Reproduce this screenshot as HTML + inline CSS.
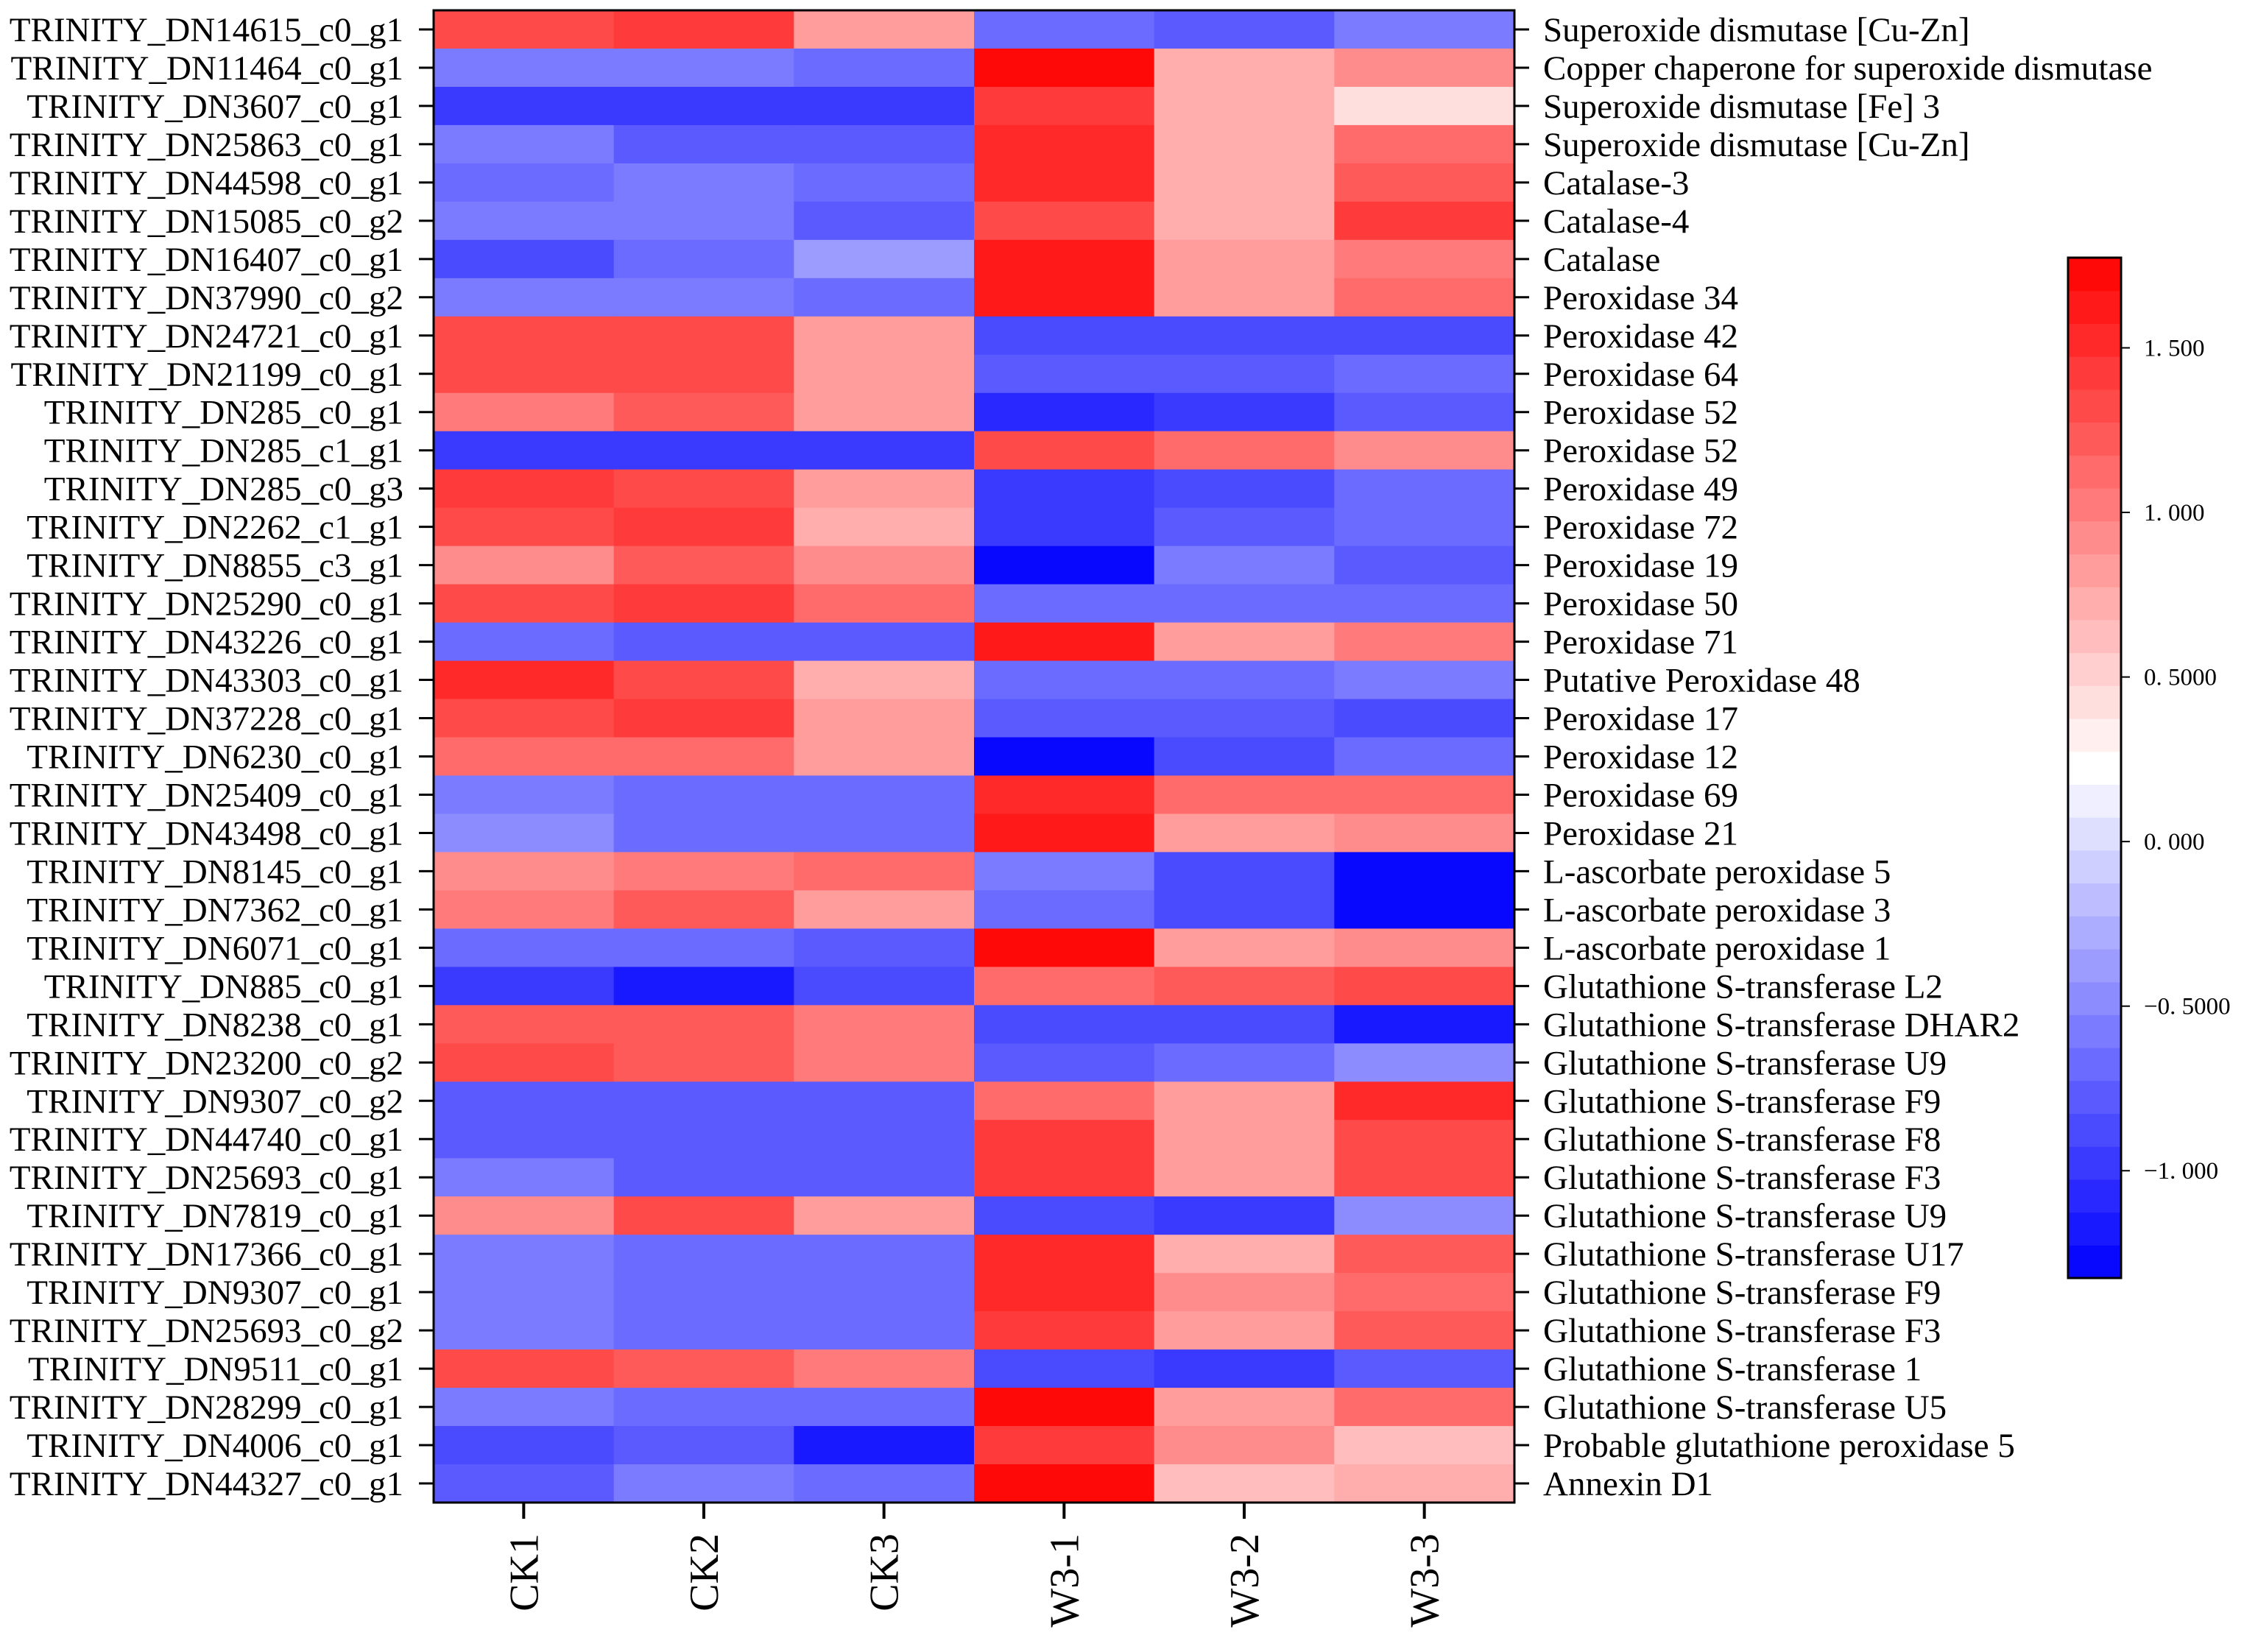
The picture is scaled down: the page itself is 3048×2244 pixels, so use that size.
<!DOCTYPE html>
<html><head><meta charset="utf-8"><style>
html,body{margin:0;padding:0;background:#fff;}
svg{display:block;font-family:"Liberation Serif",serif;}
</style></head><body>
<svg id="chart" width="3048" height="2244" viewBox="0 0 3048 2244" xmlns="http://www.w3.org/2000/svg"></svg>
<script>
const genes = ["TRINITY_DN14615_c0_g1","TRINITY_DN11464_c0_g1","TRINITY_DN3607_c0_g1","TRINITY_DN25863_c0_g1","TRINITY_DN44598_c0_g1","TRINITY_DN15085_c0_g2","TRINITY_DN16407_c0_g1","TRINITY_DN37990_c0_g2","TRINITY_DN24721_c0_g1","TRINITY_DN21199_c0_g1","TRINITY_DN285_c0_g1","TRINITY_DN285_c1_g1","TRINITY_DN285_c0_g3","TRINITY_DN2262_c1_g1","TRINITY_DN8855_c3_g1","TRINITY_DN25290_c0_g1","TRINITY_DN43226_c0_g1","TRINITY_DN43303_c0_g1","TRINITY_DN37228_c0_g1","TRINITY_DN6230_c0_g1","TRINITY_DN25409_c0_g1","TRINITY_DN43498_c0_g1","TRINITY_DN8145_c0_g1","TRINITY_DN7362_c0_g1","TRINITY_DN6071_c0_g1","TRINITY_DN885_c0_g1","TRINITY_DN8238_c0_g1","TRINITY_DN23200_c0_g2","TRINITY_DN9307_c0_g2","TRINITY_DN44740_c0_g1","TRINITY_DN25693_c0_g1","TRINITY_DN7819_c0_g1","TRINITY_DN17366_c0_g1","TRINITY_DN9307_c0_g1","TRINITY_DN25693_c0_g2","TRINITY_DN9511_c0_g1","TRINITY_DN28299_c0_g1","TRINITY_DN4006_c0_g1","TRINITY_DN44327_c0_g1"];
const annotations = ["Superoxide dismutase [Cu-Zn]","Copper chaperone for superoxide dismutase","Superoxide dismutase [Fe] 3","Superoxide dismutase [Cu-Zn]","Catalase-3","Catalase-4","Catalase","Peroxidase 34","Peroxidase 42","Peroxidase 64","Peroxidase 52","Peroxidase 52","Peroxidase 49","Peroxidase 72","Peroxidase 19","Peroxidase 50","Peroxidase 71","Putative Peroxidase 48","Peroxidase 17","Peroxidase 12","Peroxidase 69","Peroxidase 21","L-ascorbate peroxidase 5","L-ascorbate peroxidase 3","L-ascorbate peroxidase 1","Glutathione S-transferase L2","Glutathione S-transferase DHAR2","Glutathione S-transferase U9","Glutathione S-transferase F9","Glutathione S-transferase F8","Glutathione S-transferase F3","Glutathione S-transferase U9","Glutathione S-transferase U17","Glutathione S-transferase F9","Glutathione S-transferase F3","Glutathione S-transferase 1","Glutathione S-transferase U5","Probable glutathione peroxidase 5","Annexin D1"];
const samples = ["CK1","CK2","CK3","W3-1","W3-2","W3-3"];
const values = [
[1.3,1.45,0.8,-0.7,-0.8,-0.55],
[-0.55,-0.55,-0.7,1.75,0.75,0.9],
[-0.95,-0.95,-0.95,1.4,0.75,0.4],
[-0.6,-0.75,-0.75,1.5,0.75,1.1],
[-0.7,-0.55,-0.7,1.5,0.75,1.2],
[-0.6,-0.6,-0.8,1.35,0.75,1.4],
[-0.85,-0.7,-0.35,1.6,0.85,1.05],
[-0.6,-0.6,-0.7,1.6,0.85,1.1],
[1.3,1.3,0.85,-0.85,-0.85,-0.85],
[1.35,1.35,0.85,-0.8,-0.8,-0.7],
[1.0,1.25,0.85,-1.1,-1.0,-0.8],
[-0.95,-0.95,-0.95,1.35,1.1,0.9],
[1.4,1.3,0.85,-1.0,-0.9,-0.7],
[1.3,1.4,0.75,-1.0,-0.8,-0.7],
[0.9,1.25,0.9,-1.33,-0.55,-0.8],
[1.3,1.4,1.1,-0.7,-0.7,-0.7],
[-0.65,-0.75,-0.75,1.6,0.85,1.05],
[1.5,1.3,0.75,-0.7,-0.7,-0.55],
[1.35,1.4,0.85,-0.8,-0.8,-0.9],
[1.1,1.15,0.8,-1.3,-0.9,-0.7],
[-0.6,-0.7,-0.7,1.5,1.1,1.1],
[-0.5,-0.7,-0.7,1.65,0.85,0.95],
[0.9,1.0,1.1,-0.6,-0.85,-1.33],
[1.05,1.2,0.8,-0.7,-0.85,-1.33],
[-0.65,-0.65,-0.75,1.75,0.85,0.9],
[-1.0,-1.15,-0.85,1.1,1.2,1.3],
[1.2,1.2,1.0,-0.85,-0.85,-1.15],
[1.35,1.25,1.0,-0.8,-0.7,-0.5],
[-0.75,-0.75,-0.75,1.1,0.8,1.55],
[-0.75,-0.75,-0.75,1.4,0.8,1.3],
[-0.6,-0.75,-0.75,1.4,0.8,1.35],
[0.9,1.35,0.8,-0.9,-1.0,-0.5],
[-0.6,-0.7,-0.7,1.55,0.75,1.2],
[-0.6,-0.7,-0.7,1.55,0.95,1.1],
[-0.6,-0.7,-0.7,1.45,0.8,1.25],
[1.3,1.2,1.05,-0.9,-1.0,-0.8],
[-0.6,-0.7,-0.7,1.7,0.8,1.1],
[-0.9,-0.8,-1.2,1.45,0.9,0.6],
[-0.75,-0.6,-0.7,1.75,0.65,0.75]
];
const colorTicks = [1.5,1.0,0.5,0.0,-0.5,-1.0];
const colorTickLabels = ["1. 500","1. 000","0. 5000","0. 000","\u22120. 5000","\u22121. 000"];
const vmin = -1.326, vmax = 1.774;

const NS="http://www.w3.org/2000/svg";
const svg=document.getElementById('chart');
function mk(tag,attrs,parent){const e=document.createElementNS(NS,tag);for(const k in attrs)e.setAttribute(k,attrs[k]);(parent||svg).appendChild(e);return e;}
const L=589,R=2057,T=14,B=2041;
const cw=(R-L)/samples.length, rh=(B-T)/genes.length;
const xPos=i=>L+i*cw, yPos=j=>T+j*rh;
const NB=31;
function color(v){
  let t=(v-vmin)/(vmax-vmin); t=Math.max(0,Math.min(0.9999,t));
  t=(Math.floor(t*NB)+0.5)/NB;
  let r,g,b;
  if(t<0.5){const f=t/0.5;r=Math.round(255*f);g=r;b=255;}
  else{const f=(t-0.5)/0.5;r=255;g=Math.round(255*(1-f));b=g;}
  return `rgb(${r},${g},${b})`;
}
const gCells=mk('g',{});


values.forEach((row,j)=>row.forEach((v,i)=>{
  const r=mk('rect',{x:xPos(i),y:yPos(j),width:cw+0.6,height:rh+0.6,fill:color(v)},gCells);
  
  
}));
const frame=mk('rect',{x:L,y:T,width:R-L,height:B-T,fill:'none',stroke:'#000','stroke-width':3});


genes.forEach((g,j)=>{
  const yc=yPos(j)+rh/2;
  mk('line',{x1:L-20,x2:L,y1:yc,y2:yc,stroke:'#000','stroke-width':3});
  const t=mk('text',{x:548,y:yc+16,'text-anchor':'end','font-size':47},svg);t.textContent=g;
  
  
  mk('line',{x1:R,x2:R+20,y1:yc,y2:yc,stroke:'#000','stroke-width':3});
  const a=mk('text',{x:2096,y:yc+16,'font-size':47},svg);a.textContent=annotations[j];
  
  
});
samples.forEach((s,i)=>{
  const xc=xPos(i)+cw/2;
  mk('line',{x1:xc,x2:xc,y1:B,y2:B+22,stroke:'#000','stroke-width':4});
  const t=mk('text',{x:0,y:0,'text-anchor':'end','font-size':56,transform:`translate(${xc+19},${B+42}) rotate(-90)`});
  t.textContent=s;
  
  
});
const CL=2809,CR=2881,CT=350,CB=1736;
const cy=v=>CB-(v-vmin)/(vmax-vmin)*(CB-CT);
const gBar=mk('g',{});


for(let k=0;k<NB;k++){
  const v0=vmin+k*(vmax-vmin)/NB, v1=vmin+(k+1)*(vmax-vmin)/NB;
  mk('rect',{x:CL,y:cy(v1),width:CR-CL,height:cy(v0)-cy(v1)+0.6,fill:color((v0+v1)/2)},gBar);
}
mk('rect',{x:CL,y:CT,width:CR-CL,height:CB-CT,fill:'none',stroke:'#000','stroke-width':3},gBar);
colorTicks.forEach((v,k)=>{
  const y=cy(v);
  mk('line',{x1:CR,x2:CR+12,y1:y,y2:y,stroke:'#000','stroke-width':2},gBar);
  const t=mk('text',{x:2912,y:y+11,'font-size':33},gBar);t.textContent=colorTickLabels[k];
  
  
});
</script>
</body></html>
